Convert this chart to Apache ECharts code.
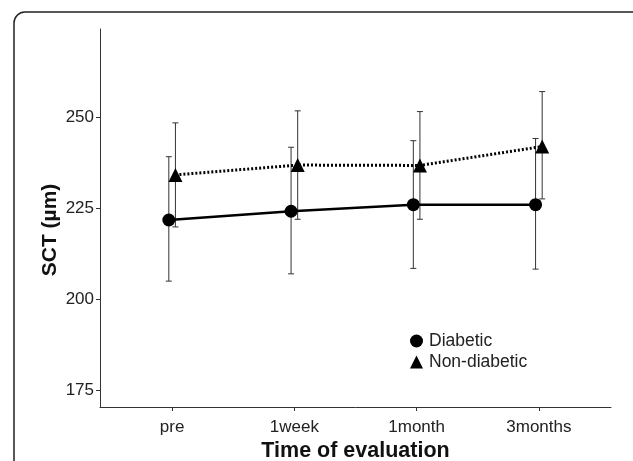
<!DOCTYPE html>
<html>
<head>
<meta charset="utf-8">
<script src="https://cdn.jsdelivr.net/npm/echarts@6/dist/echarts.min.js"></script>
<style>html,body{margin:0;padding:0;background:#fff;}#c{width:633px;height:461px;}</style>
</head>
<body>
<div id="c"></div>
<script>
// ---- data ----
const categories = ['pre', '1week', '1month', '3months'];
const diabeticMean  = [221.8, 224.2, 226.0, 226.0];
const diabeticLow   = [205.0, 207.0, 208.5, 208.3];
const diabeticHigh  = [239.2, 241.8, 243.6, 244.2];
const nonDiabeticMean = [234.2, 236.9, 236.8, 242.0];
const nonDiabeticLow  = [219.9, 222.0, 222.0, 227.6];
const nonDiabeticHigh = [248.5, 251.8, 251.6, 257.1];
const yTicks = [175, 200, 225, 250];

const DODGE = 0.027;
const font = 'Liberation Sans, Arial, sans-serif';

function pts(means, off) { return means.map((v, i) => [i + off, v]); }
function bars(low, high, off) { return low.map((v, i) => [i + off, v, high[i]]); }

function errorBar(params, api) {
  const x = api.value(0);
  const lo = api.coord([x, api.value(1)]);
  const hi = api.coord([x, api.value(2)]);
  const w = 3;
  const st = { stroke: '#333', lineWidth: 1 };
  return {
    type: 'group',
    children: [
      { type: 'line', shape: { x1: lo[0], y1: lo[1], x2: hi[0], y2: hi[1] }, style: st },
      { type: 'line', shape: { x1: lo[0] - w, y1: lo[1], x2: lo[0] + w, y2: lo[1] }, style: st },
      { type: 'line', shape: { x1: hi[0] - w, y1: hi[1], x2: hi[0] + w, y2: hi[1] }, style: st }
    ]
  };
}

const chart = echarts.init(document.getElementById('c'), null, { renderer: 'canvas' });
chart.setOption({
  animation: false,
  backgroundColor: '#fff',
  textStyle: { fontFamily: font },
  graphic: [{
    type: 'rect', silent: true, z: -1,
    shape: { x: 14, y: 12, width: 700, height: 520, r: 11 },
    style: { fill: 'none', stroke: '#222', lineWidth: 1.5 }
  }],
  grid: { left: 100, right: 22, top: 29, bottom: 54, containLabel: false, outerBoundsMode: 'none' },
  legend: {
    orient: 'vertical', left: 405, top: 327, itemWidth: 13, itemHeight: 13, itemGap: 3,
    textStyle: { fontSize: 17.5, color: '#222', fontFamily: font, padding: [0, 0, 0, 1] },
    data: [{ name: 'Diabetic', icon: 'circle' }, { name: 'Non-diabetic', icon: 'triangle' }]
  },
  xAxis: {
    type: 'value', min: -0.59, max: 3.59,
    name: 'Time of evaluation', nameLocation: 'middle', nameGap: 33, nameMoveOverlap: false,
    nameTextStyle: { fontSize: 21.5, fontWeight: 'bold', color: '#111', fontFamily: font },
    splitLine: { show: false },
    axisLine: { show: true, onZero: false, lineStyle: { color: '#333', width: 1 } },
    axisTick: { show: true, length: 4, customValues: [0, 1, 2, 3], lineStyle: { color: '#333' } },
    axisLabel: { customValues: [0, 1, 2, 3], margin: 12, fontSize: 17, color: '#222', fontFamily: font,
      formatter: v => categories[Math.round(v)] }
  },
  yAxis: {
    type: 'value', min: 170.4, max: 274.3,
    name: 'SCT (µm)', nameLocation: 'middle', nameGap: 39, nameMoveOverlap: false,
    nameTextStyle: { fontSize: 21, fontWeight: 'bold', color: '#111', fontFamily: font, padding: [0, 24, 0, 0] },
    splitLine: { show: false },
    axisLine: { show: true, onZero: false, lineStyle: { color: '#333', width: 1 } },
    axisTick: { show: true, length: 4, customValues: yTicks, lineStyle: { color: '#333' } },
    axisLabel: { customValues: yTicks, margin: 6, fontSize: 17, color: '#222', fontFamily: font }
  },
  series: [
    { type: 'custom', name: 'errD', renderItem: errorBar, data: bars(diabeticLow, diabeticHigh, -DODGE), z: 1 },
    { type: 'custom', name: 'errN', renderItem: errorBar, data: bars(nonDiabeticLow, nonDiabeticHigh, DODGE), z: 1 },
    { type: 'line', name: 'Diabetic', data: pts(diabeticMean, -DODGE), symbol: 'circle', symbolSize: 13,
      lineStyle: { color: '#000', width: 2.5 }, itemStyle: { color: '#000' }, z: 2 },
    { type: 'line', name: 'Non-diabetic', data: pts(nonDiabeticMean, DODGE), symbol: 'triangle', symbolSize: 14,
      lineStyle: { color: '#000', width: 3, type: [2, 2] }, itemStyle: { color: '#000' }, z: 2 }
  ]
});
</script>
</body>
</html>
